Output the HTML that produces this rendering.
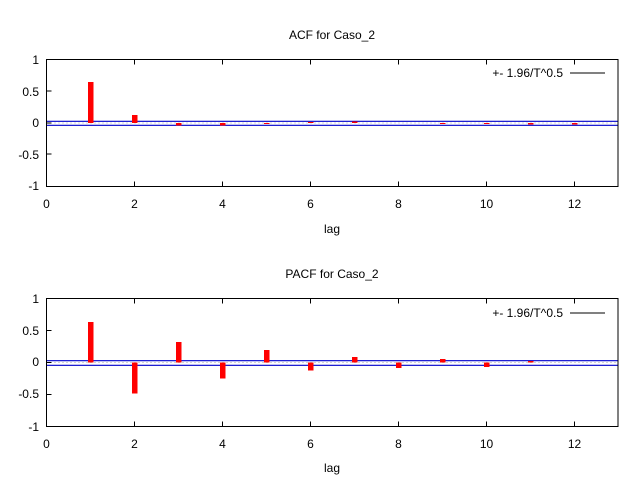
<!DOCTYPE html>
<html><head><style>body{margin:0;background:#fff}</style></head><body>
<svg width="640" height="480" xmlns="http://www.w3.org/2000/svg" font-family="Liberation Sans, DejaVu Sans, sans-serif" font-size="12">
<rect width="640" height="480" fill="#fff"/>
<!-- Panel 1 -->
<g>
<text x="332" y="39" text-anchor="middle">ACF for Caso_2</text>
<g text-anchor="end">
<text x="39" y="64">1</text><text x="39" y="96">0.5</text><text x="39" y="127">0</text><text x="39" y="159">-0.5</text><text x="39" y="190">-1</text>
</g>
<g text-anchor="middle">
<text x="46.5" y="208">0</text><text x="134.5" y="208">2</text><text x="222.5" y="208">4</text><text x="310.5" y="208">6</text><text x="398.5" y="208">8</text><text x="486.5" y="208">10</text><text x="574.5" y="208">12</text>
<text x="332" y="233">lag</text>
</g>
<line x1="46.5" y1="123" x2="618" y2="123" stroke="#aaa" stroke-dasharray="1,3"/>
<line x1="46.5" y1="121.3" x2="618" y2="121.3" stroke="#0000cc" stroke-width="1.2"/>
<line x1="46.5" y1="125.3" x2="618" y2="125.3" stroke="#0000cc" stroke-width="1.2"/>
<g fill="#f00">
<rect x="88" y="82" width="5.5" height="41"/>
<rect x="132" y="115" width="5.5" height="8"/>
<rect x="176" y="123" width="5.5" height="2.5"/>
<rect x="220" y="123" width="5.5" height="2.5"/>
<rect x="264" y="123" width="5.5" height="1"/>
<rect x="308" y="122" width="5.5" height="1"/>
<rect x="352" y="121.5" width="5.5" height="1.5"/>
<rect x="440" y="123" width="5.5" height="1"/>
<rect x="484" y="123" width="5.5" height="1"/>
<rect x="528" y="123" width="5.5" height="1.5"/>
<rect x="572" y="123" width="5.5" height="1.5"/>
</g>
<text x="563" y="77" text-anchor="end">+- 1.96/T^0.5</text>
<line x1="570" y1="73" x2="605" y2="73" stroke="#000"/>
<rect x="46.5" y="59.5" width="571.5" height="127" fill="none" stroke="#000"/>
<g stroke="#000">
<path d="M46.5 91h5M46.5 123h5M46.5 154h5M134.5 59.5v5M134.5 186.5v-5M222.5 59.5v5M222.5 186.5v-5M310.5 59.5v5M310.5 186.5v-5M398.5 59.5v5M398.5 186.5v-5M486.5 59.5v5M486.5 186.5v-5M574.5 59.5v5M574.5 186.5v-5"/>
</g>
</g>
<!-- Panel 2 -->
<g>
<text x="332" y="278" text-anchor="middle">PACF for Caso_2</text>
<g text-anchor="end">
<text x="39" y="303">1</text><text x="39" y="335">0.5</text><text x="39" y="366">0</text><text x="39" y="398">-0.5</text><text x="39" y="431">-1</text>
</g>
<g text-anchor="middle">
<text x="46.5" y="448">0</text><text x="134.5" y="448">2</text><text x="222.5" y="448">4</text><text x="310.5" y="448">6</text><text x="398.5" y="448">8</text><text x="486.5" y="448">10</text><text x="574.5" y="448">12</text>
<text x="332" y="472">lag</text>
</g>
<line x1="46.5" y1="362.5" x2="618" y2="362.5" stroke="#aaa" stroke-dasharray="1,3"/>
<line x1="46.5" y1="360.7" x2="618" y2="360.7" stroke="#0000cc" stroke-width="1.2"/>
<line x1="46.5" y1="365.3" x2="618" y2="365.3" stroke="#0000cc" stroke-width="1.2"/>
<g fill="#f00">
<rect x="88" y="322" width="5.5" height="40.5"/>
<rect x="132" y="362.5" width="5.5" height="31"/>
<rect x="176" y="342" width="5.5" height="20.5"/>
<rect x="220" y="362.5" width="5.5" height="16"/>
<rect x="264" y="350" width="5.5" height="12.5"/>
<rect x="308" y="362.5" width="5.5" height="8"/>
<rect x="352" y="357" width="5.5" height="5.5"/>
<rect x="396" y="362.5" width="5.5" height="5.5"/>
<rect x="440" y="359" width="5.5" height="3.5"/>
<rect x="484" y="362.5" width="5.5" height="4.5"/>
<rect x="528" y="361" width="5.5" height="1.5"/>
</g>
<text x="563" y="317" text-anchor="end">+- 1.96/T^0.5</text>
<line x1="570" y1="313" x2="605" y2="313" stroke="#000"/>
<rect x="46.5" y="298.5" width="571.5" height="128" fill="none" stroke="#000"/>
<g stroke="#000">
<path d="M46.5 330.5h5M46.5 362.5h5M46.5 394.5h5M134.5 298.5v5M134.5 426.5v-5M222.5 298.5v5M222.5 426.5v-5M310.5 298.5v5M310.5 426.5v-5M398.5 298.5v5M398.5 426.5v-5M486.5 298.5v5M486.5 426.5v-5M574.5 298.5v5M574.5 426.5v-5"/>
</g>
</g>
</svg>
</body></html>
